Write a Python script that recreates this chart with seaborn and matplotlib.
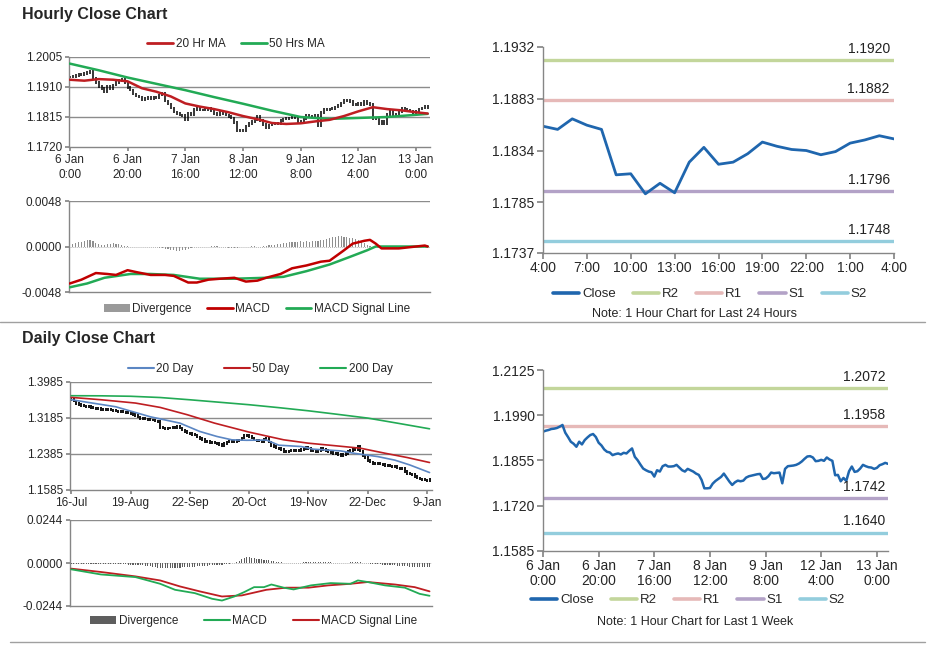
import numpy as np
import matplotlib
matplotlib.use("Agg")
import matplotlib.pyplot as plt
from matplotlib.lines import Line2D
from matplotlib.patches import Patch
import seaborn as sns

sns.set_theme(style="white")
plt.rcParams["font.family"] = ["Liberation Sans", "DejaVu Sans"]

# ── DATA ──────────────────────────────────────────────────────────────────────
# hourly close, 6 Jan 0:00 .. 13 Jan 4:00 (125 bars)
hourly_close = [
    1.1941, 1.1944, 1.1946, 1.1949, 1.1950, 1.1952, 1.1956, 1.1961, 1.1938, 1.1925,
    1.1911, 1.1905, 1.1896, 1.1911, 1.1903, 1.1916, 1.1924, 1.1931, 1.1934, 1.1925,
    1.1908, 1.1900, 1.1888, 1.1881, 1.1879, 1.1871, 1.1874, 1.1876, 1.1873, 1.1878,
    1.1876, 1.1884, 1.1891, 1.1866, 1.1856, 1.1843, 1.1831, 1.1826, 1.1822, 1.1820,
    1.1807, 1.1826, 1.1822, 1.1838, 1.1842, 1.1837, 1.1837, 1.1838, 1.1842, 1.1834,
    1.1826, 1.1822, 1.1830, 1.1826, 1.1822, 1.1816, 1.1812, 1.1797, 1.1772, 1.1772,
    1.1773, 1.1786, 1.1794, 1.1800, 1.1806, 1.1816, 1.1804, 1.1792, 1.1782, 1.1790,
    1.1795, 1.1793, 1.1795, 1.1804, 1.1808, 1.1810, 1.1812, 1.1814, 1.1815, 1.1800,
    1.1801, 1.1808, 1.1819, 1.1817, 1.1818, 1.1819, 1.1787, 1.1830, 1.1838, 1.1839,
    1.1840, 1.1842, 1.1846, 1.1852, 1.1860, 1.1867, 1.1868, 1.1864, 1.1853, 1.1854,
    1.1857, 1.1854, 1.1864, 1.1858, 1.1854, 1.1811, 1.1812, 1.1793, 1.1803, 1.1794,
    1.1823, 1.1837, 1.1821, 1.1823, 1.1831, 1.1842, 1.1838, 1.1835, 1.1834, 1.1830,
    1.1833, 1.1841, 1.1844, 1.1848, 1.1845,
]
hourly_div = [
    0.0002, 0.0003, 0.0004, 0.0005, 0.0005, 0.0006, 0.0007, 0.0007,
    0.0006, 0.0004, 0.0003, 0.0002, 0.0002, 0.0003, 0.0003, 0.0004,
    0.0003, 0.0003, 0.0002, 0.0001, 0.0001, 0.0000, -0.0001, -0.0001,
    -0.0001, -0.0001, -0.0001, -0.0001, -0.0001, -0.0001, -0.0001, -0.0002,
    -0.0002, -0.0003, -0.0003, -0.0004, -0.0004, -0.0005, -0.0005, -0.0004,
    -0.0004, -0.0003, -0.0002, -0.0001, -0.0001, 0.0000, 0.0000, 0.0000,
    0.0000, 0.0001, 0.0001, 0.0001, 0.0000, -0.0001, -0.0001, -0.0002,
    -0.0002, -0.0002, -0.0002, -0.0001, -0.0001, 0.0000, 0.0000, 0.0001,
    0.0001, 0.0000, 0.0000, 0.0001, 0.0001, 0.0002, 0.0002, 0.0002,
    0.0003, 0.0003, 0.0004, 0.0004, 0.0005, 0.0005, 0.0005, 0.0005,
    0.0006, 0.0005, 0.0006, 0.0005, 0.0006, 0.0006, 0.0006, 0.0007,
    0.0007, 0.0008, 0.0009, 0.0010, 0.0010, 0.0011, 0.0011, 0.0010,
    0.0010, 0.0009, 0.0009, 0.0008, 0.0007, 0.0005, 0.0004, 0.0002,
    0.0001, 0.0000, 0.0000, 0.0000, 0.0000, 0.0000, 0.0000, 0.0000,
    0.0000, 0.0000, 0.0000, 0.0000, 0.0000, 0.0000, 0.0000, 0.0000,
    0.0000, 0.0000, 0.0001, 0.0001, 0.0001,
]
ma20_h = [0, 5, 10, 15, 20, 25, 30, 35, 40, 45, 50, 55, 60, 65, 70, 75, 80, 85, 90, 95, 100, 105, 110, 115, 120, 124]
ma20_v = [1.1933, 1.1930, 1.1935, 1.1933, 1.1928, 1.1906, 1.1895, 1.1880, 1.1858, 1.1848, 1.1840, 1.1830, 1.1818,
          1.1808, 1.1796, 1.1793, 1.1795, 1.1801, 1.1806, 1.1818, 1.1833, 1.1846, 1.1840, 1.1836, 1.1830, 1.1826]
ma50_h = [0, 10, 20, 30, 40, 50, 60, 70, 80, 90, 100, 110, 120, 124]
ma50_v = [1.1984, 1.1963, 1.1940, 1.1920, 1.1900, 1.1878, 1.1857, 1.1835, 1.1815, 1.1809, 1.1812, 1.1815, 1.1822, 1.1825]
macd_h = [0, 4, 9, 13, 16, 20, 23, 28, 33, 36, 41, 44, 48, 52, 57, 61, 65, 68, 73, 77, 82, 87, 90, 95, 98, 102, 104,
          106, 108, 114, 120, 123, 124]
macd_v = [-0.0039, -0.0035, -0.0028, -0.0029, -0.0030, -0.0025, -0.0027, -0.0030, -0.0030, -0.0031,
          -0.0038, -0.0038, -0.0035, -0.0034, -0.0033, -0.0037, -0.0036, -0.0033, -0.0029, -0.0023,
          -0.0020, -0.0016, -0.0015, -0.0004, 0.0003, 0.0006, 0.0007, 0.0003, -0.0002, -0.0002,
          0.0000, 0.0001, 0.0000]
signal_h = [0, 6, 12, 21, 28, 36, 45, 57, 68, 74, 82, 90, 97, 103, 106, 114, 124]
signal_v = [-0.0043, -0.0039, -0.0033, -0.0029, -0.0029, -0.0030, -0.0034, -0.0034, -0.0033, -0.0032,
            -0.0026, -0.0019, -0.0011, -0.0004, 0.0000, 0.0000, 0.0000]
hourly_xticks = [0, 20, 40, 60, 80, 100, 120]
hourly_xlabels = ["6 Jan\n0:00", "6 Jan\n20:00", "7 Jan\n16:00", "8 Jan\n12:00", "9 Jan\n8:00", "12 Jan\n4:00", "13 Jan\n0:00"]
hourly_yticks = [1.1720, 1.1815, 1.1910, 1.2005]
hmacd_yticks = [-0.0048, 0.0000, 0.0048]

# last 24 hours chart
day_xlabels = ["4:00", "7:00", "10:00", "13:00", "16:00", "19:00", "22:00", "1:00", "4:00"]
day_yticks = [1.1737, 1.1785, 1.1834, 1.1883, 1.1932]
day_levels = [1.1920, 1.1882, 1.1796, 1.1748]
week_yticks = [1.1585, 1.1720, 1.1855, 1.1990, 1.2125]
week_levels = [1.2072, 1.1958, 1.1742, 1.1640]
level_names = ["R2", "R1", "S1", "S2"]

# daily close, 16-Jul .. 12-Jan (146 bars)
daily_close = [
    1.3590, 1.3560, 1.3510, 1.3490, 1.3460, 1.3450, 1.3440, 1.3435, 1.3420, 1.3405,
    1.3399, 1.3390, 1.3370, 1.3368, 1.3375, 1.3368, 1.3360, 1.3345, 1.3339, 1.3330,
    1.3323, 1.3320, 1.3315, 1.3308, 1.3290, 1.3260, 1.3234, 1.3210, 1.3176, 1.3170,
    1.3161, 1.3150, 1.3140, 1.3138, 1.3120, 1.3100, 1.2967, 1.2960, 1.2953, 1.2960,
    1.2965, 1.2967, 1.2975, 1.2989, 1.2960, 1.2915, 1.2890, 1.2850, 1.2842, 1.2815,
    1.2804, 1.2760, 1.2730, 1.2700, 1.2670, 1.2660, 1.2645, 1.2641, 1.2630, 1.2619,
    1.2600, 1.2566, 1.2620, 1.2655, 1.2660, 1.2655, 1.2670, 1.2685, 1.2693, 1.2740,
    1.2804, 1.2790, 1.2767, 1.2740, 1.2693, 1.2680, 1.2675, 1.2670, 1.2700, 1.2730,
    1.2650, 1.2581, 1.2550, 1.2520, 1.2508, 1.2480, 1.2440, 1.2432, 1.2450, 1.2470,
    1.2465, 1.2470, 1.2470, 1.2490, 1.2508, 1.2540, 1.2510, 1.2470, 1.2450, 1.2432,
    1.2470, 1.2508, 1.2480, 1.2460, 1.2447, 1.2420, 1.2400, 1.2396, 1.2370, 1.2343,
    1.2370, 1.2396, 1.2440, 1.2470, 1.2480, 1.2485, 1.2544, 1.2450, 1.2358, 1.2300,
    1.2248, 1.2210, 1.2174, 1.2180, 1.2174, 1.2165, 1.2150, 1.2137, 1.2125, 1.2120,
    1.2114, 1.2100, 1.2077, 1.2070, 1.2062, 1.2000, 1.1951, 1.1940, 1.1929, 1.1890,
    1.1854, 1.1830, 1.1817, 1.1810, 1.1802, 1.1825,
]
daily_div = [
    -0.0003, -0.0004, -0.0004, -0.0005, -0.0005, -0.0005, -0.0006, -0.0006, -0.0006, -0.0006,
    -0.0006, -0.0007, -0.0007, -0.0007, -0.0007, -0.0007, -0.0007, -0.0007, -0.0007, -0.0008,
    -0.0008, -0.0008, -0.0008, -0.0009, -0.0009, -0.0010, -0.0010, -0.0011, -0.0012, -0.0013,
    -0.0015, -0.0017, -0.0019, -0.0021, -0.0024, -0.0026, -0.0028, -0.0029, -0.0030, -0.0030,
    -0.0030, -0.0029, -0.0028, -0.0027, -0.0026, -0.0025, -0.0024, -0.0023, -0.0022, -0.0021,
    -0.0020, -0.0019, -0.0018, -0.0017, -0.0016, -0.0015, -0.0014, -0.0013, -0.0012, -0.0011,
    -0.0010, -0.0009, -0.0008, -0.0006, -0.0004, -0.0002, 0.0000, 0.0005, 0.0012, 0.0020,
    0.0028, 0.0032, 0.0033, 0.0030, 0.0026, 0.0024, 0.0022, 0.0021, 0.0019, 0.0017,
    0.0015, 0.0012, 0.0010, 0.0008, 0.0005, 0.0003, 0.0001, 0.0000, -0.0001, -0.0001,
    -0.0001, 0.0000, 0.0001, 0.0002, 0.0004, 0.0005, 0.0006, 0.0005, 0.0004, 0.0003,
    0.0005, 0.0006, 0.0006, 0.0005, 0.0004, 0.0003, 0.0002, 0.0001, 0.0000, -0.0001,
    -0.0001, 0.0000, 0.0002, 0.0004, 0.0006, 0.0007, 0.0006, 0.0004, 0.0002, 0.0000,
    -0.0002, -0.0004, -0.0005, -0.0006, -0.0007, -0.0008, -0.0009, -0.0010, -0.0011, -0.0012,
    -0.0013, -0.0014, -0.0015, -0.0016, -0.0017, -0.0018, -0.0019, -0.0020, -0.0021, -0.0022,
    -0.0023, -0.0024, -0.0024, -0.0025, -0.0025, -0.0025,
]
d20_i = [0, 18, 32, 44, 52, 59, 65, 71, 79, 84, 93, 98, 109, 115, 124, 131, 137, 145]
d20_v = [1.3591, 1.3435, 1.3212, 1.3071, 1.2886, 1.2774, 1.2700, 1.2690, 1.2695, 1.2581,
         1.2551, 1.2492, 1.2454, 1.2396, 1.2328, 1.2248, 1.2142, 1.1973]
d50_i = [0, 12, 26, 36, 47, 58, 72, 86, 96, 106, 117, 127, 136, 145]
d50_v = [1.3643, 1.3591, 1.3517, 1.3420, 1.3257, 1.3071, 1.2871, 1.2700, 1.2625, 1.2573, 1.2514, 1.2402, 1.2306, 1.2196]
d200_i = [0, 12, 24, 36, 48, 60, 72, 84, 96, 108, 120, 132, 145]
d200_v = [1.3680, 1.3678, 1.3668, 1.3640, 1.3590, 1.3535, 1.3480, 1.3415, 1.3345, 1.3265, 1.3183, 1.3070, 1.2945]
dmacd_i = [0, 12, 26, 36, 42, 50, 57, 61, 66, 70, 74, 78, 81, 86, 90, 97, 105, 113, 116, 120, 127, 135, 141, 145]
dmacd_v = [-0.0036, -0.0065, -0.0080, -0.0118, -0.0152, -0.0171, -0.0203, -0.0213, -0.0190, -0.0165,
           -0.0137, -0.0137, -0.0122, -0.0140, -0.0150, -0.0127, -0.0114, -0.0118, -0.0099, -0.0108,
           -0.0127, -0.0140, -0.0175, -0.0186]
dsig_i = [0, 12, 26, 36, 44, 52, 61, 69, 79, 87, 96, 104, 113, 120, 131, 139, 145]
dsig_v = [-0.0032, -0.0051, -0.0076, -0.0099, -0.0133, -0.0161, -0.0190, -0.0184, -0.0152, -0.0140,
          -0.0140, -0.0127, -0.0118, -0.0108, -0.0122, -0.0137, -0.0161]
daily_xticks = [0, 24, 48, 72, 96, 120, 144]
daily_xlabels = ["16-Jul", "19-Aug", "22-Sep", "20-Oct", "19-Nov", "22-Dec", "9-Jan"]
daily_yticks = [1.1585, 1.2385, 1.3185, 1.3985]
dmacd_yticks = [-0.0244, 0.0000, 0.0244]

# ── STYLE ─────────────────────────────────────────────────────────────────────
RED = "#BE1E22"
GREEN = "#22AA55"
BLUE = "#5B86C3"
CLOSE = "#1F66AE"
LEVEL_COLORS = ["#C3D69B", "#E6B9B8", "#B3A2C7", "#93CDDD"]
GRID = "#8C8C8C"
AXC = "#868686"
LEFT_FS = 8.5
RIGHT_FS = 10

W, H = 938, 645
fig = plt.figure(figsize=(W / 100, H / 100), dpi=100)


def box(x0, y0, x1, y1):
    return [x0 / W, 1 - y1 / H, (x1 - x0) / W, (y1 - y0) / H]


def style_left(ax, yticks, grid_all=True):
    for s in ["top", "right"]:
        ax.spines[s].set_visible(False)
    for s in ["left", "bottom"]:
        ax.spines[s].set_color(AXC)
        ax.spines[s].set_linewidth(1)
    ax.set_ylim(yticks[0], yticks[-1])
    ax.set_yticks(yticks)
    ax.set_yticklabels([f"{v:.4f}" for v in yticks])
    if grid_all:
        for v in yticks[1:]:
            ax.axhline(v, color=GRID, lw=1, zorder=0)
    else:
        ax.axhline(yticks[-1], color=GRID, lw=1, zorder=0)
    ax.tick_params(axis="both", labelsize=LEFT_FS, length=3, color=AXC, pad=2, direction="out",
                   left=True, bottom=True)


def style_right(ax, yticks):
    for s in ["top", "right"]:
        ax.spines[s].set_visible(False)
    for s in ["left", "bottom"]:
        ax.spines[s].set_color(AXC)
        ax.spines[s].set_linewidth(1)
    ax.set_ylim(yticks[0], yticks[-1])
    ax.set_yticks(yticks)
    ax.set_yticklabels([f"{v:.4f}" for v in yticks])
    ax.tick_params(axis="both", labelsize=RIGHT_FS, length=4, color=AXC, pad=2, direction="out",
                   left=True, bottom=True)


def fig_legend(handles, labels, x, y, size=LEFT_FS, hl=2.2, cs=1.3):
    fig.legend(handles, labels, loc="center", bbox_to_anchor=(x / W, 1 - y / H), ncol=len(handles),
               frameon=False, fontsize=size, handlelength=hl, handletextpad=0.2, columnspacing=cs,
               borderpad=0, borderaxespad=0)


def ohlc(ax, close, wick, lw):
    x = np.arange(len(close))
    c = np.array(close)
    prev = np.concatenate([[c[0]], c[:-1]])
    ax.vlines(x, np.minimum(prev, c) - wick, np.maximum(prev, c) + wick, color="black", lw=lw, zorder=2)


def swatch(color):
    return Patch(facecolor=color, edgecolor="none")


# ── HOURLY PRICE ──────────────────────────────────────────────────────────────
ax1 = fig.add_axes(box(69, 57, 430, 147))
ohlc(ax1, hourly_close, 0.0004, 1.1)
sns.lineplot(x=ma50_h, y=ma50_v, ax=ax1, color=GREEN, lw=1.8, zorder=3)
sns.lineplot(x=ma20_h, y=ma20_v, ax=ax1, color=RED, lw=1.8, zorder=4)
style_left(ax1, hourly_yticks)
ax1.set_xlim(-0.3, 124.8)
ax1.set_xticks(hourly_xticks)
ax1.set_xticklabels(hourly_xlabels, linespacing=1.3)
ax1.set_ylabel("")
fig_legend([Line2D([], [], color=RED, lw=2), Line2D([], [], color=GREEN, lw=2)],
           ["20 Hr MA", "50 Hrs MA"], 236, 44)

# ── HOURLY MACD ───────────────────────────────────────────────────────────────
ax2 = fig.add_axes(box(69, 201, 430, 292))
ax2.axhline(0, color="#B5B5B5", lw=0.7, ls=(0, (1, 1)), zorder=0)
ax2.bar(np.arange(len(hourly_div)), hourly_div, width=0.4, color="#8F8F8F", lw=0, edgecolor="none", zorder=1)
sns.lineplot(x=signal_h, y=signal_v, ax=ax2, color=GREEN, lw=1.8, zorder=3)
sns.lineplot(x=macd_h, y=macd_v, ax=ax2, color="#C00000", lw=1.8, zorder=4)
style_left(ax2, hmacd_yticks, grid_all=False)
ax2.set_xlim(-0.3, 124.8)
ax2.set_xticks([])
ax2.set_ylabel("")
fig_legend([swatch("#9A9A9A"), Line2D([], [], color="#C00000", lw=2), Line2D([], [], color=GREEN, lw=2)],
           ["Divergence", "MACD", "MACD Signal Line"], 257, 309)

# ── LAST 24 HOURS ─────────────────────────────────────────────────────────────
day_close = hourly_close[-25:]
ax3 = fig.add_axes(box(543, 47, 894, 253))
style_right(ax3, day_yticks)
for lv, col in zip(day_levels, LEVEL_COLORS):
    sns.lineplot(x=[0, len(day_close) - 1], y=[lv, lv], ax=ax3, color=col, lw=2.4)
    ax3.annotate(f"{lv:.4f}", xy=(len(day_close) - 1, lv), xytext=(-3, 3), textcoords="offset points",
                 ha="right", va="bottom", fontsize=RIGHT_FS, color="#222222")
sns.lineplot(x=np.arange(len(day_close)), y=day_close, ax=ax3, color=CLOSE, lw=2)
ax3.set_xlim(0, len(day_close) - 1)
ax3.set_xticks(np.arange(0, len(day_close), 3))
ax3.set_xticklabels(day_xlabels)
ax3.set_ylabel("")
handles = [Line2D([], [], color=CLOSE, lw=2.6)] + [Line2D([], [], color=c, lw=2.6) for c in LEVEL_COLORS]
fig_legend(handles, ["Close"] + level_names, 710, 294, size=9.5, hl=2.0, cs=1.3)
fig.text(695 / W, 1 - 314 / H, "Note: 1 Hour Chart for Last 24 Hours", ha="center", va="center", fontsize=9)

# ── DAILY PRICE ───────────────────────────────────────────────────────────────
ax4 = fig.add_axes(box(70, 382, 432, 490))
ohlc(ax4, daily_close, 0.003, 1.3)
sns.lineplot(x=d200_i, y=d200_v, ax=ax4, color=GREEN, lw=1.2, zorder=3)
sns.lineplot(x=d50_i, y=d50_v, ax=ax4, color=RED, lw=1.2, zorder=3)
sns.lineplot(x=d20_i, y=d20_v, ax=ax4, color=BLUE, lw=1.2, zorder=3)
style_left(ax4, daily_yticks)
ax4.set_xlim(-0.5, 146)
ax4.set_xticks(daily_xticks)
ax4.set_xticklabels(daily_xlabels)
ax4.set_ylabel("")
fig_legend([Line2D([], [], color=BLUE, lw=1.5), Line2D([], [], color=RED, lw=1.5), Line2D([], [], color=GREEN, lw=1.5)],
           ["20 Day", "50 Day", "200 Day"], 260, 369, cs=2.6)

# ── DAILY MACD ────────────────────────────────────────────────────────────────
ax5 = fig.add_axes(box(70, 520, 432, 606))
ax5.axhline(0, color="#B5B5B5", lw=0.7, ls=(0, (1, 1)), zorder=0)
ax5.bar(np.arange(len(daily_div)), daily_div, width=0.45, color="#5E5E5E", lw=0, edgecolor="none", zorder=1)
sns.lineplot(x=dsig_i, y=dsig_v, ax=ax5, color=RED, lw=1.3, zorder=3)
sns.lineplot(x=dmacd_i, y=dmacd_v, ax=ax5, color=GREEN, lw=1.3, zorder=4)
style_left(ax5, dmacd_yticks, grid_all=False)
ax5.set_xlim(-0.5, 146)
ax5.set_xticks([])
ax5.set_ylabel("")
fig_legend([swatch("#5E5E5E"), Line2D([], [], color=GREEN, lw=1.5), Line2D([], [], color=RED, lw=1.5)],
           ["Divergence", "MACD", "MACD Signal Line"], 254, 621, cs=2.2)

# ── LAST 1 WEEK ───────────────────────────────────────────────────────────────
ax6 = fig.add_axes(box(543, 370, 888, 551))
style_right(ax6, week_yticks)
n = len(hourly_close)
for lv, col in zip(week_levels, LEVEL_COLORS):
    sns.lineplot(x=[0, n - 1], y=[lv, lv], ax=ax6, color=col, lw=2.4)
    ax6.annotate(f"{lv:.4f}", xy=(n - 1, lv), xytext=(-2, 3), textcoords="offset points",
                 ha="right", va="bottom", fontsize=RIGHT_FS, color="#222222")
sns.lineplot(x=np.arange(n), y=hourly_close, ax=ax6, color=CLOSE, lw=1.8)
ax6.set_xlim(0, n - 1)
ax6.set_xticks(hourly_xticks)
ax6.set_xticklabels(hourly_xlabels, linespacing=1.1)
ax6.set_ylabel("")
fig_legend(handles, ["Close"] + level_names, 688, 600, size=9.5, hl=2.0, cs=1.3)
fig.text(695 / W, 1 - 622 / H, "Note: 1 Hour Chart for Last 1 Week", ha="center", va="center", fontsize=9)

# ── TITLES & SEPARATORS ───────────────────────────────────────────────────────
fig.text(22 / W, 1 - 15 / H, "Hourly Close Chart", fontsize=11.5, fontweight="bold", va="center")
fig.text(22 / W, 1 - 338 / H, "Daily Close Chart", fontsize=11.5, fontweight="bold", va="center")
fig.add_artist(Line2D([0, 925 / W], [1 - 322 / H] * 2, color="#A0A0A0", lw=1))
fig.add_artist(Line2D([10 / W, 925 / W], [1 - 642 / H] * 2, color="#A0A0A0", lw=1))

fig.savefig("out.png", dpi=100)
